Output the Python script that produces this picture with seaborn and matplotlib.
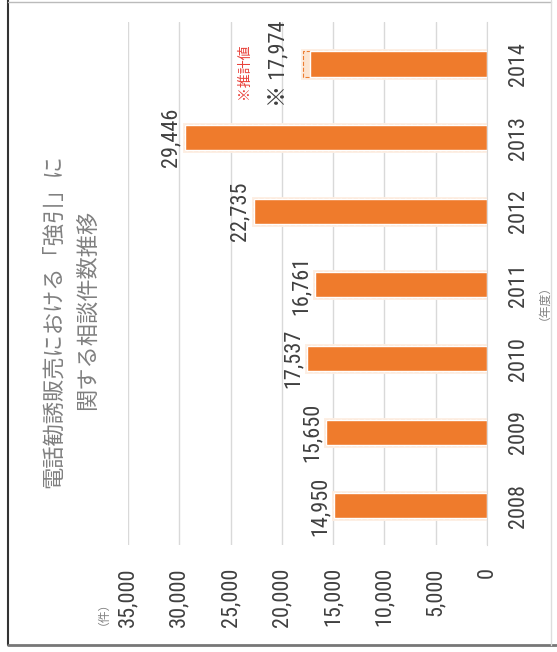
import matplotlib
matplotlib.use("Agg")
import matplotlib.pyplot as plt
import matplotlib.font_manager as fm
from matplotlib.lines import Line2D
from matplotlib.ticker import MultipleLocator, FuncFormatter
import pandas as pd
import seaborn as sns

# data
years = ["2008", "2009", "2010", "2011", "2012", "2013", "2014"]
counts = [14950, 15650, 17537, 16761, 22735, 29446, 17974]
solid_counts = [14950, 15650, 17537, 16761, 22735, 29446, 17300]  # 2014: confirmed part
value_labels = ["14,950", "15,650", "17,537", "16,761", "22,735", "29,446", "※ 17,974"]
title_lines = ["電話勧誘販売における「強引」に", "関する相談件数推移"]

# fonts: a narrow face for the numbers if one is installed
fonts = fm.fontManager.ttflist
narrow_names = ["Liberation Sans Narrow", "Roboto Condensed", "Open Sans Condensed",
                "DejaVu Sans Condensed", "Noto Sans Condensed"]
names = {f.name for f in fonts}
num_font = next((n for n in narrow_names if n in names), None)
stretch = "normal"
if num_font is None:
    num_font = "DejaVu Sans"
    if any(f.name == "DejaVu Sans" and f.stretch in ("condensed", "semi-condensed") for f in fonts):
        stretch = "condensed"
narrow = num_font != "DejaVu Sans" or stretch == "condensed"
num_size = 16 if narrow else 13
jp_font = "Noto Sans CJK JP"

sns.set_style("white")
plt.rcParams["font.family"] = [num_font, jp_font]
plt.rcParams["font.stretch"] = stretch

W, H = 557, 652
fig = plt.figure(figsize=(W / 100, H / 100), dpi=100)
ax = fig.add_axes([128 / W, 1 - 545 / H, (487 - 128) / W, (545 - 22) / H])

df = pd.DataFrame({"year": years, "count": counts, "solid": solid_counts})
order = years[::-1]

# faint glow, estimated part (light, dashed), then the confirmed orange part
sns.barplot(data=df, x="count", y="year", order=order, orient="h",
            color="#FCE4D0", edgecolor="#FDEEE2", linewidth=3.5,
            width=0.34, saturation=1, ax=ax)
sns.barplot(data=df, x="count", y="year", order=order, orient="h",
            color="#FCE4D0", edgecolor="#ED7D31", linewidth=0.8, linestyle="--",
            width=0.34, saturation=1, ax=ax)
sns.barplot(data=df, x="solid", y="year", order=order, orient="h",
            color="#EF7B2C", width=0.34, saturation=1, ax=ax)

ax.set_xlim(35000, 0)
ax.set_ylim(6.53, -0.57)
ax.xaxis.set_major_locator(MultipleLocator(5000))
ax.xaxis.set_major_formatter(FuncFormatter(lambda v, p: f"{int(v):,}"))
ax.set_xlabel("")
ax.set_ylabel("")
ax.grid(axis="x", color="#D9D9D9", linewidth=1)
ax.set_axisbelow(True)
for s in ["top", "left", "bottom"]:
    ax.spines[s].set_visible(False)
ax.spines["right"].set_color("#D9D9D9")

ax.yaxis.tick_right()
ax.tick_params(axis="y", length=0, pad=15, labelsize=num_size, labelcolor="#404040")
ax.tick_params(axis="x", length=0, pad=16, labelsize=num_size, labelcolor="#404040")
for lbl in ax.get_yticklabels():
    lbl.set_rotation(90)
    lbl.set_va("center")
    lbl.set_ha("left")
for lbl in ax.get_xticklabels():
    lbl.set_rotation(90)
    lbl.set_va("top")
    lbl.set_ha("center")

# value labels
for yr, v, lab in zip(years, counts, value_labels):
    pos = order.index(yr)
    off = -17 if lab.startswith("※") else -10
    ax.annotate(lab, xy=(v, pos), xytext=(off, 0), textcoords="offset points",
                rotation=90, ha="center", va="center", fontsize=num_size,
                color="#404040", family=[num_font, jp_font])

ax.annotate("※推計値", xy=(counts[-1], order.index("2014")), xytext=(-42, -5),
            textcoords="offset points", rotation=90, ha="center", va="center",
            fontsize=10, color="#E8413A", family=jp_font)

# title, two rotated lines
fig.text(53 / W, 1 - 321 / H, title_lines[0], rotation=90, ha="center", va="center",
         fontsize=16, color="#808080", family=jp_font)
fig.text(87 / W, 1 - 310 / H, title_lines[1], rotation=90, ha="center", va="center",
         fontsize=16, color="#808080", family=jp_font)
fig.text(97 / W, 1 - 607 / H, "（件）", rotation=90, ha="center", va="center",
         fontsize=8.5, color="#808080", family=jp_font)
fig.text(538 / W, 1 - 296 / H, "（年度）", rotation=90, ha="center", va="center",
         fontsize=8.5, color="#808080", family=jp_font)

# outer frame
fig.add_artist(Line2D([8 / W, 8 / W], [1 - 645 / H, 1], color="#333333", lw=1.5))
fig.add_artist(Line2D([8 / W, 1], [1 - 645 / H, 1 - 645 / H], color="#777777", lw=2))
fig.add_artist(Line2D([8 / W, 551 / W], [1 - 1.5 / H, 1 - 1.5 / H], color="#BBBBBB", lw=1))
fig.add_artist(Line2D([551 / W, 551 / W], [1 - 645 / H, 1], color="#DDDDDD", lw=1))

fig.savefig("out.png", dpi=100)
